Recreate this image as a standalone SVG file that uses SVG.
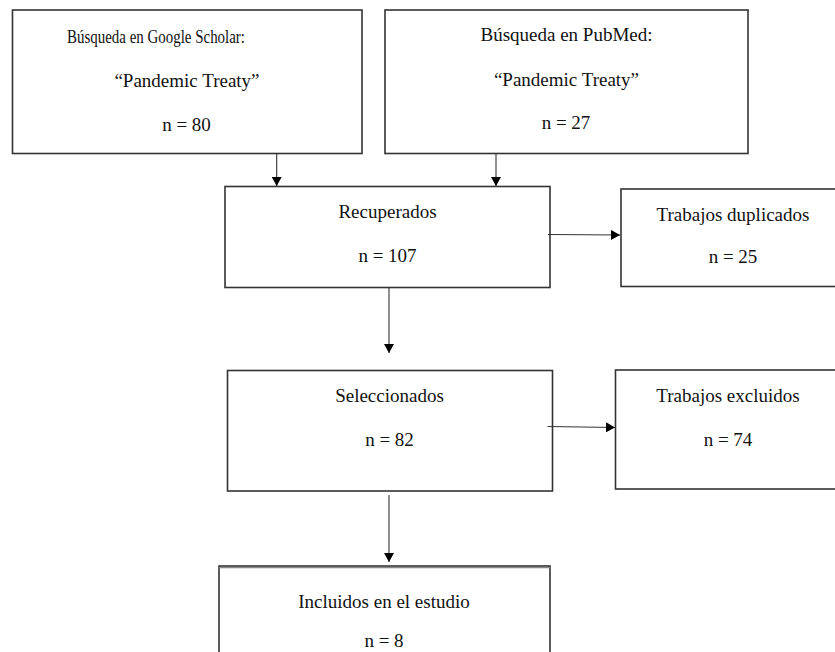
<svg xmlns="http://www.w3.org/2000/svg" width="835" height="652" viewBox="0 0 835 652">
<defs>
<style>
.box{fill:#fff;stroke:#333;stroke-width:1.6}
.t{font-family:"Liberation Serif","Times New Roman",serif;font-size:19px;fill:#111;text-anchor:middle}
.c{stroke:#333;stroke-width:1.1;fill:none}
</style>
<marker id="ah" viewBox="0 0 10 10" refX="10" refY="5" markerWidth="9" markerHeight="10" markerUnits="userSpaceOnUse" orient="auto" preserveAspectRatio="none">
<path d="M0,0 L10,5 L0,10 z" fill="#000"/>
</marker>
</defs>
<rect width="835" height="652" fill="#fff"/>
<g id="google">
<rect class="box" x="12.5" y="10" width="349.5" height="143.5"/>
<text class="t" x="156" y="43" textLength="178" lengthAdjust="spacingAndGlyphs">Búsqueda en Google Scholar:</text>
<text class="t" x="187" y="87">“Pandemic Treaty”</text>
<text class="t" x="186.5" y="131">n = 80</text>
</g>
<g id="pubmed">
<rect class="box" x="385" y="10" width="363" height="143.5"/>
<text class="t" x="566.5" y="41">Búsqueda en PubMed:</text>
<text class="t" x="566.5" y="86">“Pandemic Treaty”</text>
<text class="t" x="566" y="129">n = 27</text>
</g>
<g id="recuperados">
<rect class="box" x="225" y="186.5" width="325" height="101"/>
<text class="t" x="387.5" y="218">Recuperados</text>
<text class="t" x="387.5" y="262">n = 107</text>
</g>
<g id="duplicados">
<rect class="box" x="621" y="189" width="230" height="97.5"/>
<text class="t" x="733" y="221">Trabajos duplicados</text>
<text class="t" x="733" y="263">n = 25</text>
</g>
<g id="seleccionados">
<rect class="box" x="227.5" y="370.5" width="325" height="120.5"/>
<text class="t" x="389.5" y="401.5">Seleccionados</text>
<text class="t" x="389.5" y="445.5">n = 82</text>
</g>
<g id="excluidos">
<rect class="box" x="615.5" y="370" width="235" height="119"/>
<text class="t" x="728" y="401.5">Trabajos excluidos</text>
<text class="t" x="728" y="445.5">n = 74</text>
</g>
<g id="incluidos">
<rect class="box" x="219" y="566" width="331" height="110"/>
<line x1="219" y1="567.6" x2="550" y2="567.6" stroke="#888" stroke-width="1.4"/>
<text class="t" x="384" y="608">Incluidos en el estudio</text>
<text class="t" x="384" y="647">n = 8</text>
</g>
<g id="connectors">
<line class="c" x1="276.7" y1="154" x2="276.7" y2="186" marker-end="url(#ah)"/>
<line class="c" x1="496" y1="154" x2="496" y2="186" marker-end="url(#ah)"/>
<line class="c" x1="548" y1="234.5" x2="620" y2="235" marker-end="url(#ah)"/>
<line class="c" x1="389" y1="288" x2="389" y2="353" marker-end="url(#ah)"/>
<line class="c" x1="547.5" y1="426.5" x2="615" y2="427.5" marker-end="url(#ah)"/>
<line class="c" x1="389" y1="495" x2="389" y2="562" marker-end="url(#ah)"/>
</g>
</svg>
